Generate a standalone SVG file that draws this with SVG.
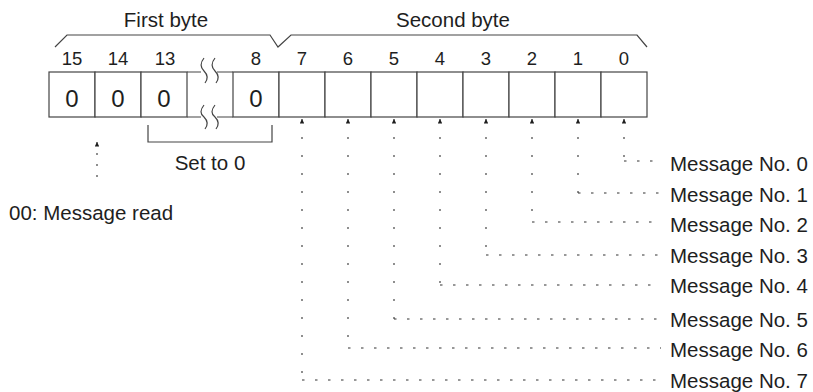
<svg xmlns="http://www.w3.org/2000/svg" width="813" height="392" viewBox="0 0 813 392">
<style>
  text { font-family: "Liberation Sans", Arial, sans-serif; fill: #1e1e1e; }
  .title { font-size: 20.5px; text-anchor: middle; }
  .bit { font-size: 18.5px; text-anchor: middle; }
  .val { font-size: 24px; text-anchor: middle; }
  .msg { font-size: 20.5px; }
  .cell { fill: #fff; stroke: #444; stroke-width: 1.2; }
  .ln { fill: none; stroke: #444; stroke-width: 1.2; }
  .vdot { fill: none; stroke: #333; stroke-width: 1.1; stroke-dasharray: 2 16; }
  .sdot { fill: none; stroke: #333; stroke-width: 1.1; stroke-dasharray: 2 9; }
  .hdot { fill: none; stroke: #333; stroke-width: 1.1; stroke-dasharray: 2.5 10.5; }
</style>
<defs>
  <marker id="arr" viewBox="0 0 10 10" markerWidth="7" markerHeight="4.5" refX="10" refY="5" orient="auto-start-reverse" markerUnits="userSpaceOnUse">
    <path d="M0,0 L10,5 L0,10 z" fill="#1e1e1e"/>
  </marker>
</defs>

<g id="header">
  <path class="ln" d="M55,47 L67,35 L270,35 L278,47 L291,35 L637,35 L647,47"/>
  <text class="title" x="166" y="27">First byte</text>
  <text class="title" x="453" y="27">Second byte</text>
</g>

<g id="bits">
  <text class="bit" x="72" y="65">15</text>
  <text class="bit" x="118" y="65">14</text>
  <text class="bit" x="165" y="65">13</text>
  <text class="bit" x="256" y="65">8</text>
  <text class="bit" x="302" y="65">7</text>
  <text class="bit" x="348" y="65">6</text>
  <text class="bit" x="394" y="65">5</text>
  <text class="bit" x="440" y="65">4</text>
  <text class="bit" x="486" y="65">3</text>
  <text class="bit" x="532" y="65">2</text>
  <text class="bit" x="578" y="65">1</text>
  <text class="bit" x="624" y="65">0</text>
</g>

<g id="cell15"><rect class="cell" x="49" y="72" width="46" height="45"/><text class="val" x="72" y="107">0</text></g>
<g id="cell14"><rect class="cell" x="95" y="72" width="46" height="45"/><text class="val" x="118" y="107">0</text></g>
<g id="cell13"><rect class="cell" x="141" y="72" width="46" height="45"/><text class="val" x="164" y="107">0</text></g>
<g id="cellbreak">
  <path class="ln" d="M187,72 H201 M217,72 H233 M187,117 H201 M217,117 H233"/>
  <path class="ln" d="M204,58 C200,63 200,67 204,71 C208,75 208,79 205,83 M215,58 C211,63 211,67 215,71 C219,75 219,79 216,83"/>
  <path class="ln" d="M204,105 C200,110 200,114 204,117 C208,121 208,125 205,129 M215,105 C211,110 211,114 215,117 C219,121 219,125 216,129"/>
</g>
<g id="cell8"><rect class="cell" x="233" y="72" width="46" height="45"/><text class="val" x="256" y="107">0</text></g>
<g id="cell7"><rect class="cell" x="279" y="72" width="46" height="45"/></g>
<g id="cell6"><rect class="cell" x="325" y="72" width="46" height="45"/></g>
<g id="cell5"><rect class="cell" x="371" y="72" width="46" height="45"/></g>
<g id="cell4"><rect class="cell" x="417" y="72" width="46" height="45"/></g>
<g id="cell3"><rect class="cell" x="463" y="72" width="46" height="45"/></g>
<g id="cell2"><rect class="cell" x="509" y="72" width="46" height="45"/></g>
<g id="cell1"><rect class="cell" x="555" y="72" width="46" height="45"/></g>
<g id="cell0"><rect class="cell" x="601" y="72" width="46" height="45"/></g>

<g id="setzero">
  <path class="ln" d="M148,125 V142 H272 V125"/>
  <text class="msg" x="210" y="170" text-anchor="middle">Set to 0</text>
</g>

<g id="msgread">
  <text class="msg" x="9" y="220">00: Message read</text>
</g>

<g id="messages">
  <text class="msg" x="670" y="171">Message No. 0</text>
  <text class="msg" x="670" y="202">Message No. 1</text>
  <text class="msg" x="670" y="232">Message No. 2</text>
  <text class="msg" x="670" y="263">Message No. 3</text>
  <text class="msg" x="670" y="293">Message No. 4</text>
  <text class="msg" x="670" y="327">Message No. 5</text>
  <text class="msg" x="670" y="357">Message No. 6</text>
  <text class="msg" x="670" y="388">Message No. 7</text>
</g>

<g id="connectors">
  <path class="sdot" d="M97,142 V179" marker-start="url(#arr)"/>
  <path class="vdot" d="M624,119 V161" marker-start="url(#arr)"/>
  <path class="hdot" d="M624,161 H661"/>
  <path class="vdot" d="M578,119 V193" marker-start="url(#arr)"/>
  <path class="hdot" d="M578,193 H661"/>
  <path class="vdot" d="M532,119 V222" marker-start="url(#arr)"/>
  <path class="hdot" d="M532,222 H661"/>
  <path class="vdot" d="M486,119 V255" marker-start="url(#arr)"/>
  <path class="hdot" d="M486,255 H661"/>
  <path class="vdot" d="M440,119 V285" marker-start="url(#arr)"/>
  <path class="hdot" d="M440,285 H661"/>
  <path class="vdot" d="M394,119 V319" marker-start="url(#arr)"/>
  <path class="hdot" d="M394,319 H661"/>
  <path class="vdot" d="M348,119 V348" marker-start="url(#arr)"/>
  <path class="hdot" d="M348,348 H661"/>
  <path class="vdot" d="M302,119 V380" marker-start="url(#arr)"/>
  <path class="hdot" d="M302,380 H661"/>
</g>
</svg>
